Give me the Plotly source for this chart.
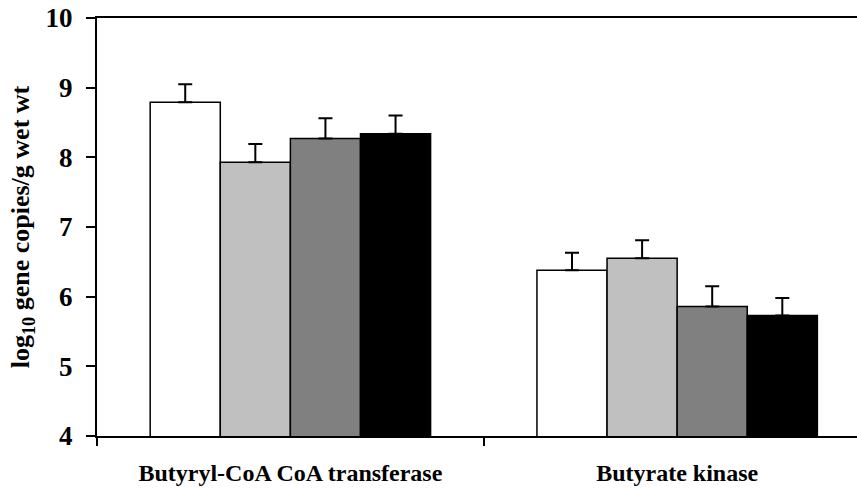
import plotly.graph_objects as go

categories = ["Butyryl-CoA CoA transferase", "Butyrate kinase"]
series_names = ["Group 1", "Group 2", "Group 3", "Group 4"]
series_colors = ["#FFFFFF", "#C0C0C0", "#808080", "#000000"]
values = [
    [8.79, 6.38],
    [7.93, 6.55],
    [8.27, 5.86],
    [8.34, 5.73],
]
errors = [
    [0.26, 0.25],
    [0.26, 0.26],
    [0.29, 0.29],
    [0.26, 0.25],
]
y_ticks = [4, 5, 6, 7, 8, 9, 10]

FONT = "Times New Roman, Liberation Serif, serif"

fig = go.Figure()
for name, color, vals, errs in zip(series_names, series_colors, values, errors):
    fig.add_trace(go.Bar(
        name=name,
        x=categories,
        y=vals,
        marker=dict(color=color, line=dict(color="black", width=1.5)),
        error_y=dict(type="data", array=errs, arrayminus=[0] * len(errs),
                     symmetric=False, color="black", thickness=2, width=7),
    ))

fig.update_layout(
    width=857, height=489,
    margin=dict(l=97, r=0, t=18, b=53),
    barmode="group",
    bargap=0.275,
    bargroupgap=0,
    showlegend=False,
    plot_bgcolor="white",
    paper_bgcolor="white",
    font=dict(family=FONT, color="black"),
)
fig.update_xaxes(
    type="category",
    range=[-0.5, 1.465],
    showline=True, linecolor="black", linewidth=2, mirror=True,
    ticks="outside", ticklen=8, tickwidth=1.5, tickcolor="black",
    tickson="boundaries",
    tickfont=dict(family=FONT, size=24, weight="bold"),
    showgrid=False,
    ticklabelstandoff=14,
)
fig.update_yaxes(
    range=[4, 10],
    tickvals=y_ticks,
    showline=True, linecolor="black", linewidth=2,
    ticks="outside", ticklen=9, tickwidth=1.5, tickcolor="black",
    tickfont=dict(family=FONT, size=27, weight="bold"),
    ticklabelstandoff=8,
    showgrid=False, zeroline=False,
    title=dict(text="log<sub>10</sub> gene copies/g wet wt",
               font=dict(family=FONT, size=26, weight="bold"), standoff=8),
)

fig.write_html("out.html")
